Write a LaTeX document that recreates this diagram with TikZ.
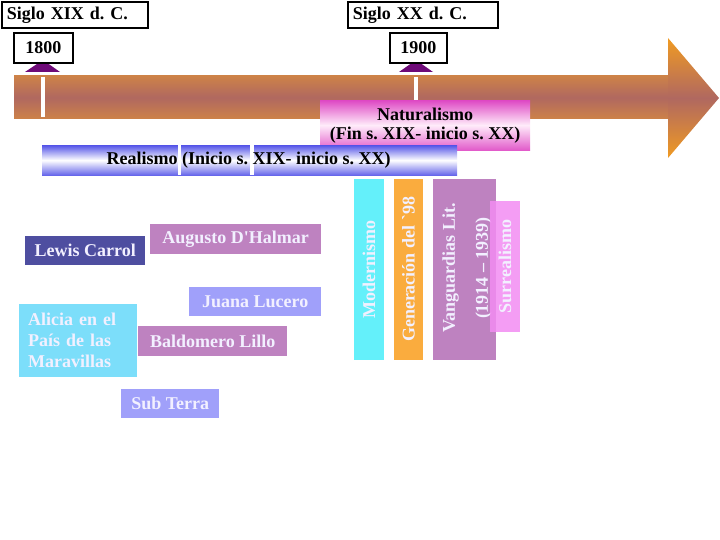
\documentclass[tikz,border=0pt]{standalone}
\usepackage{fontspec}
\setmainfont{Liberation Serif}[Ligatures=TeXOff]
\usepackage{tikz}
\usetikzlibrary{positioning}
\frenchspacing
\definecolor{arrowtop}{RGB}{205,130,72}
\definecolor{arrowmid}{RGB}{176,104,96}
\definecolor{headout}{RGB}{240,155,35}
\definecolor{markcol}{RGB}{110,10,120}
\definecolor{natcol}{RGB}{222,72,196}
\definecolor{natmid}{RGB}{255,236,250}
\definecolor{realcol}{RGB}{84,84,232}
\definecolor{cdark}{RGB}{78,78,160}
\definecolor{cpurple}{RGB}{190,130,192}
\definecolor{clight}{RGB}{160,160,250}
\definecolor{ccyan}{RGB}{124,222,250}
\definecolor{cmod}{RGB}{100,240,250}
\definecolor{cgen}{RGB}{250,172,62}
\definecolor{csur}{RGB}{242,140,242}
\definecolor{wtext}{RGB}{242,240,255}
\tikzset{
  bigfont/.style={font=\fontsize{18}{20}\selectfont\bfseries},
  centbox/.style={draw=black, line width=1.6pt, fill=white, bigfont, inner ysep=0pt,
                  inner xsep=5pt, minimum height=26, align=left, anchor=north west},
  yearbox/.style={draw=black, line width=1.6pt, fill=white, bigfont, inner sep=0pt,
                  minimum height=30, anchor=north west},
  tickline/.style={white, line width=3.5pt},
  marker/.style={fill=markcol},
  bandbox/.style={bigfont, inner sep=0pt, anchor=north west, align=center},
  authbox/.style={bigfont, text=wtext, inner sep=0pt, anchor=north west, align=center},
  movbox/.style={bigfont, text=wtext, inner sep=0pt, rotate=90, align=center},
}
\begin{document}
\begin{tikzpicture}[x=1pt,y=-1pt]
  \useasboundingbox (0,0) rectangle (720,540);
  % time arrow
  \shade[top color=arrowtop, bottom color=arrowtop, middle color=arrowmid] (14,76) rectangle (669,119);
  \shade[top color=headout, bottom color=headout, middle color=arrowmid] (668,38) -- (719,98) -- (668,158) -- cycle;
  \draw[tickline] (43,77) -- (43,117);
  \draw[tickline] (416,77) -- (416,117);
  \fill[marker] (25,72) -- (43,60) -- (60,72) -- cycle;
  \fill[marker] (399,72) -- (416,60) -- (433,72) -- cycle;
  % centuries and years
  \node[centbox, text width=136] (s19) at (1,1) {Siglo XIX d. C.};
  \node[centbox, text width=140] (s20) at (347,1) {Siglo XX d. C.};
  \node[yearbox, minimum width=59] (y1800) at (13,32) {1800};
  \node[yearbox, minimum width=57] (y1900) at (389,32) {1900};
  % periods
  \node[bandbox, minimum width=210, minimum height=50, shade, top color=natcol, bottom color=natcol!90,
        middle color=natmid] (nat) at (320,100) {Naturalismo\\[-1pt](Fin s. XIX- inicio s. XX)};
  \node[bandbox, minimum width=415, minimum height=30, shade, top color=realcol, bottom color=realcol!90,
        middle color=white] (real) at (42,145) {};
  \draw[white, line width=3.5pt] (179.5,145) -- (179.5,175);
  \draw[white, line width=3.5pt] (252,145) -- (252,175);
  \node[bigfont, inner sep=0pt] (realtext) at ([xshift=-1]real.center) {Realismo (Inicio s. XIX- inicio s. XX)};
  % movements
  \node[movbox, fill=cmod, minimum width=181, minimum height=30] (mod) at (369,269.5) {Modernismo};
  \node[movbox, fill=cgen, minimum width=181, minimum height=29] (gen) at (408.5,269.5) {Generación del `98};
  \node[movbox, fill=cpurple, minimum width=181, minimum height=63] (van) at (464.5,269.5) {};
  \node[movbox, font=\fontsize{18}{33}\selectfont\bfseries] (vantext) at (467,268) {Vanguardias Lit.\\(1914 – 1939)};
  \node[movbox, fill=csur, fill opacity=0.85, text opacity=1, minimum width=131, minimum height=30]
    (sur) at (505,266.5) {Surrealismo};
  % authors and works
  \node[authbox, fill=cdark, minimum width=120, minimum height=29] (carrol) at (25,236) {Lewis Carrol};
  \node[authbox, fill=cpurple, minimum width=171, minimum height=30] (halmar) at (150,224) {Augusto D'Halmar};
  \node[authbox, fill=clight, minimum width=132, minimum height=29] (lucero) at (189,287) {Juana Lucero};
  \node[authbox, fill=ccyan, minimum height=73, text width=100, inner xsep=9, align=left,
        font=\fontsize{18}{21}\selectfont\bfseries] (alicia) at (19,304) {Alicia en el\\País de las\\Maravillas};
  \node[authbox, fill=cpurple, minimum width=149, minimum height=30] (lillo) at (138,326) {Baldomero Lillo};
  \node[authbox, fill=clight, minimum width=98, minimum height=29] (terra) at (121,389) {Sub Terra};
\end{tikzpicture}
\end{document}
